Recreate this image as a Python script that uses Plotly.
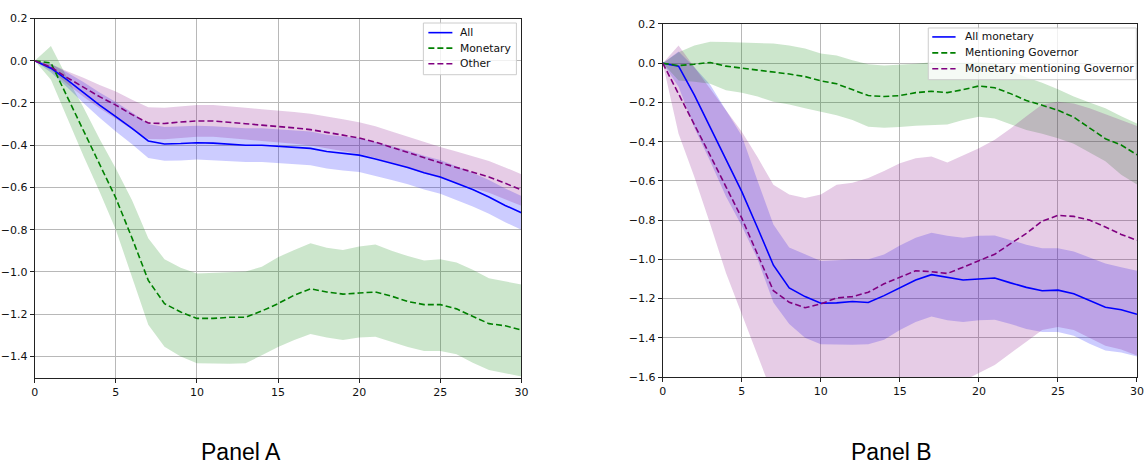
import plotly.graph_objects as go

steps = list(range(31))

# ---------------- Panel A ----------------
a_all = [0, -0.035, -0.09, -0.15, -0.21, -0.265, -0.32, -0.38, -0.394, -0.392, -0.388, -0.39, -0.395, -0.40, -0.40,
         -0.405, -0.41, -0.415, -0.43, -0.44, -0.447, -0.465, -0.485, -0.505, -0.53, -0.55, -0.58, -0.61, -0.645, -0.685, -0.72]
a_all_upper = [0, -0.015, -0.055, -0.10, -0.15, -0.195, -0.245, -0.30, -0.314, -0.312, -0.308, -0.31, -0.315, -0.32, -0.32,
               -0.325, -0.33, -0.335, -0.35, -0.36, -0.367, -0.385, -0.405, -0.425, -0.45, -0.47, -0.50, -0.53, -0.565, -0.605, -0.64]
a_all_lower = [0, -0.055, -0.125, -0.20, -0.27, -0.335, -0.395, -0.46, -0.474, -0.472, -0.468, -0.47, -0.475, -0.48, -0.48,
               -0.485, -0.49, -0.495, -0.51, -0.52, -0.527, -0.545, -0.565, -0.585, -0.61, -0.63, -0.66, -0.69, -0.725, -0.765, -0.80]

a_mon = [0, -0.01, -0.17, -0.33, -0.49, -0.65, -0.84, -1.04, -1.15, -1.19, -1.22, -1.22, -1.215, -1.215, -1.185,
         -1.15, -1.11, -1.08, -1.095, -1.105, -1.1, -1.095, -1.115, -1.14, -1.155, -1.155, -1.175, -1.21, -1.245, -1.255, -1.275]
a_mon_upper = [0, 0.07, -0.08, -0.22, -0.37, -0.51, -0.66, -0.84, -0.94, -0.98, -1.008, -1.005, -1.0, -0.998, -0.975,
               -0.93, -0.896, -0.864, -0.885, -0.896, -0.88, -0.87, -0.9, -0.925, -0.946, -0.94, -0.955, -0.99, -1.03, -1.045, -1.06]
a_mon_lower = [0, -0.09, -0.27, -0.45, -0.62, -0.80, -1.02, -1.25, -1.354, -1.40, -1.432, -1.435, -1.435, -1.432, -1.395,
               -1.355, -1.322, -1.294, -1.31, -1.322, -1.31, -1.307, -1.33, -1.355, -1.374, -1.374, -1.39, -1.43, -1.465, -1.48, -1.495]

a_oth = [0, -0.03, -0.08, -0.125, -0.17, -0.21, -0.255, -0.295, -0.297, -0.29, -0.285, -0.285, -0.29, -0.298, -0.305,
         -0.31, -0.318, -0.326, -0.338, -0.352, -0.366, -0.385, -0.41, -0.435, -0.46, -0.483, -0.505, -0.528, -0.55, -0.58, -0.612]
a_oth_upper = [0, -0.015, -0.05, -0.08, -0.115, -0.145, -0.185, -0.22, -0.222, -0.215, -0.21, -0.21, -0.215, -0.223, -0.23,
               -0.235, -0.243, -0.251, -0.263, -0.277, -0.291, -0.31, -0.335, -0.36, -0.385, -0.408, -0.43, -0.453, -0.475, -0.505, -0.537]
a_oth_lower = [0, -0.045, -0.11, -0.17, -0.225, -0.275, -0.325, -0.37, -0.372, -0.365, -0.36, -0.36, -0.365, -0.373, -0.38,
               -0.385, -0.393, -0.401, -0.413, -0.427, -0.441, -0.46, -0.485, -0.51, -0.535, -0.558, -0.58, -0.603, -0.625, -0.655, -0.687]

# ---------------- Panel B ----------------
b_all = [0, -0.015, -0.163, -0.327, -0.49, -0.655, -0.84, -1.03, -1.146, -1.19, -1.224, -1.222, -1.215, -1.22, -1.185,
         -1.145, -1.105, -1.078, -1.09, -1.105, -1.1, -1.095, -1.12, -1.143, -1.16, -1.157, -1.175, -1.21, -1.244, -1.257, -1.28]
b_all_upper = [0, 0.06, -0.02, -0.11, -0.24, -0.37, -0.6, -0.822, -0.94, -0.974, -1.008, -1.005, -1.0, -1.0, -0.975,
               -0.93, -0.89, -0.864, -0.88, -0.89, -0.88, -0.878, -0.9, -0.925, -0.943, -0.943, -0.96, -0.99, -1.021, -1.04, -1.058]
b_all_lower = [0, -0.12, -0.33, -0.50, -0.68, -0.83, -1.0, -1.22, -1.33, -1.40, -1.433, -1.435, -1.435, -1.433, -1.41,
               -1.36, -1.32, -1.291, -1.31, -1.32, -1.31, -1.308, -1.33, -1.355, -1.371, -1.371, -1.39, -1.43, -1.465, -1.475, -1.495]

b_gov = [0, -0.012, -0.005, 0.004, -0.015, -0.025, -0.033, -0.045, -0.055, -0.068, -0.09, -0.105, -0.135, -0.165, -0.17,
         -0.165, -0.15, -0.143, -0.15, -0.135, -0.116, -0.125, -0.155, -0.19, -0.214, -0.24, -0.275, -0.33, -0.385, -0.417, -0.467]
b_gov_upper = [0, 0.056, 0.09, 0.11, 0.108, 0.106, 0.103, 0.10, 0.09, 0.075, 0.05, 0.04, 0.015, -0.005, -0.012,
               -0.008, -0.003, 0.005, 0.0, 0.003, 0.005, 0.0, -0.04, -0.071, -0.10, -0.133, -0.17, -0.2, -0.23, -0.27, -0.307]
b_gov_lower = [0, -0.088, -0.095, -0.105, -0.138, -0.15, -0.17, -0.197, -0.21, -0.23, -0.248, -0.265, -0.29, -0.324, -0.329,
               -0.325, -0.319, -0.315, -0.312, -0.29, -0.273, -0.282, -0.31, -0.341, -0.36, -0.383, -0.41, -0.455, -0.50, -0.569, -0.619]

b_mgov = [0, -0.155, -0.315, -0.47, -0.63, -0.79, -0.975, -1.16, -1.219, -1.247, -1.227, -1.197, -1.19, -1.168, -1.125,
          -1.09, -1.058, -1.063, -1.072, -1.04, -1.008, -0.974, -0.92, -0.868, -0.805, -0.776, -0.781, -0.80, -0.835, -0.873, -0.903]
b_mgov_upper = [0, 0.09, -0.02, -0.13, -0.245, -0.35, -0.48, -0.62, -0.67, -0.687, -0.67, -0.62, -0.61, -0.585, -0.55,
                -0.51, -0.485, -0.475, -0.506, -0.47, -0.434, -0.39, -0.333, -0.27, -0.21, -0.197, -0.205, -0.23, -0.26, -0.29, -0.32]
b_mgov_lower = [0, -0.36, -0.58, -0.82, -1.07, -1.28, -1.49, -1.70, -1.80, -1.85, -1.85, -1.83, -1.82, -1.80, -1.77,
                -1.73, -1.70, -1.68, -1.66, -1.62, -1.58, -1.539, -1.48, -1.42, -1.36, -1.345, -1.36, -1.40, -1.44, -1.46, -1.49]

a_yticks = [0.2, 0.0, -0.2, -0.4, -0.6, -0.8, -1.0, -1.2, -1.4]
b_yticks = [0.2, 0.0, -0.2, -0.4, -0.6, -0.8, -1.0, -1.2, -1.4, -1.6]
x_ticks = [0, 5, 10, 15, 20, 25, 30]

a_names = ["All", "Monetary", "Other"]
b_names = ["All monetary", "Mentioning Governor", "Monetary mentioning Governor"]
panel_titles = ["Panel A", "Panel B"]

BLUE, GREEN, PURPLE = "#0000ff", "#008000", "#800080"
FILLS = {BLUE: "rgba(0,0,255,0.2)", GREEN: "rgba(0,128,0,0.2)", PURPLE: "rgba(128,0,128,0.2)"}
DASH = "6px,3px"
W, H = 1144, 473

# the photographed page comes out slightly shrunk; place things so they land on target pixels
SX, OX = 0.990, 3.8
SY, OY = 0.978, 3.9


def px_x(t):
    return min(max((t - OX) / SX / W, 0.0), 1.0)


def px_y(t):
    return min(max(1 - (t - OY) / SY / H, 0.0), 1.0)


fig = go.Figure()


def band(xa, ya, upper, lower, color):
    fig.add_trace(go.Scatter(
        x=steps + steps[::-1], y=upper + lower[::-1], xaxis=xa, yaxis=ya,
        fill="toself", fillcolor=FILLS[color], line=dict(width=0), mode="lines",
        hoverinfo="skip", showlegend=False))


def line(xa, ya, vals, color, name, dash):
    fig.add_trace(go.Scatter(
        x=steps, y=vals, xaxis=xa, yaxis=ya, mode="lines", name=name, showlegend=False,
        line=dict(color=color, width=1.6, dash=dash)))


band("x", "y", a_all_upper, a_all_lower, BLUE)
band("x", "y", a_mon_upper, a_mon_lower, GREEN)
band("x", "y", a_oth_upper, a_oth_lower, PURPLE)
line("x", "y", a_all, BLUE, a_names[0], "solid")
line("x", "y", a_mon, GREEN, a_names[1], DASH)
line("x", "y", a_oth, PURPLE, a_names[2], DASH)

band("x2", "y2", b_all_upper, b_all_lower, BLUE)
band("x2", "y2", b_gov_upper, b_gov_lower, GREEN)
band("x2", "y2", b_mgov_upper, b_mgov_lower, PURPLE)
line("x2", "y2", b_all, BLUE, b_names[0], "solid")
line("x2", "y2", b_gov, GREEN, b_names[1], DASH)
line("x2", "y2", b_mgov, PURPLE, b_names[2], DASH)

shapes, annotations = [], []
LEG_FONT = dict(family="DejaVu Sans", size=10.75, color="#111111")


def legend_box(left, right, top, bottom, line_x0, line_x1, text_x, rows, names):
    shapes.append(dict(type="rect", xref="paper", yref="paper", layer="above",
                       x0=px_x(left), x1=px_x(right), y0=px_y(bottom), y1=px_y(top),
                       fillcolor="rgba(255,255,255,0.8)", line=dict(color="#cccccc", width=1)))
    styles = [(BLUE, "solid"), (GREEN, DASH), (PURPLE, DASH)]
    for ry, nm, (col, dsh) in zip(rows, names, styles):
        shapes.append(dict(type="line", xref="paper", yref="paper", layer="above",
                           x0=px_x(line_x0), x1=px_x(line_x1), y0=px_y(ry), y1=px_y(ry),
                           line=dict(color=col, width=1.6, dash=dsh)))
        annotations.append(dict(text=nm, xref="paper", yref="paper", x=px_x(text_x), y=px_y(ry),
                                xanchor="left", yanchor="middle", showarrow=False, font=LEG_FONT))


legend_box(423, 516, 21, 73, 428, 452, 458, [30.7, 46.3, 62.0], a_names)
legend_box(927.7, 1135.7, 26, 78, 931.7, 955, 962, [35, 51, 67], b_names)

# panel captions sit on the very bottom of the figure
for txt, cx in zip(panel_titles, [240.5, 890.5]):
    annotations.append(dict(text=txt, x=px_x(cx), y=0, xref="paper", yref="paper",
                            xanchor="center", yanchor="bottom", showarrow=False, borderpad=0,
                            font=dict(family="Liberation Sans", size=23, color="#000000")))

tickfont = dict(family="DejaVu Sans", size=11, color="#111111")
axis_common = dict(showline=True, linecolor="#222222", linewidth=1, mirror=True,
                   showgrid=True, gridcolor="#b8b8b8", gridwidth=1, zeroline=False,
                   ticks="outside", ticklen=4, tickwidth=1, tickcolor="#222222",
                   tickfont=tickfont)

fig.update_layout(
    width=W, height=H, margin=dict(l=0, r=0, t=0, b=0),
    plot_bgcolor="white", paper_bgcolor="white", showlegend=False,
    xaxis=dict(domain=[px_x(34.5), px_x(521)], range=[0, 30], tickvals=x_ticks, anchor="y", **axis_common),
    yaxis=dict(domain=[px_y(377.5), px_y(16.5)], range=[-1.5, 0.2], tickvals=a_yticks,
               tickformat=".1f", anchor="x", **axis_common),
    xaxis2=dict(domain=[px_x(662.3), px_x(1139.5)], range=[0, 30], tickvals=x_ticks, anchor="y2",
                ticklabeloverflow="allow", **axis_common),
    yaxis2=dict(domain=[px_y(377), px_y(22)], range=[-1.6, 0.2], tickvals=b_yticks,
                tickformat=".1f", anchor="x2", **axis_common),
    shapes=shapes,
    annotations=annotations,
)

fig.write_html("out.html")
